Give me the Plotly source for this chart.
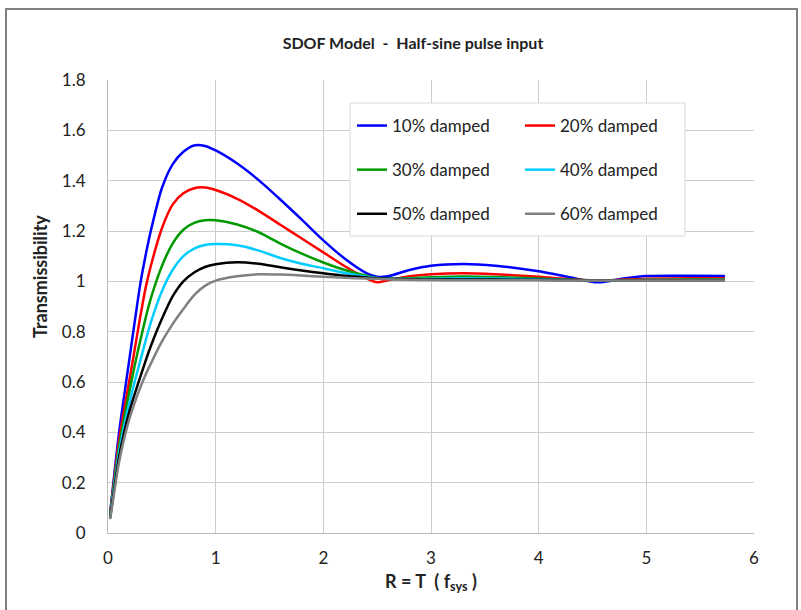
import plotly.graph_objects as go

# Frequency ratio R = T * f_sys
r_values = [0.02, 0.1, 0.15, 0.2, 0.25, 0.3, 0.35, 0.4, 0.5, 0.6, 0.7, 0.8, 0.9, 1.0,
            1.2, 1.4, 1.6, 1.8, 2.0, 2.2, 2.4, 2.5, 2.6, 2.8, 3.0, 3.3, 3.6, 4.0, 4.3,
            4.55, 4.8, 5.0, 5.4, 5.73]

damped_10 = [0.08, 0.39, 0.545, 0.695, 0.845, 0.99, 1.105, 1.205, 1.37, 1.465, 1.515, 1.54, 1.538, 1.52,
             1.468, 1.402, 1.325, 1.245, 1.163, 1.09, 1.033, 1.018, 1.02, 1.045, 1.062, 1.069, 1.062, 1.04, 1.015,
             0.996, 1.012, 1.021, 1.022, 1.021]
damped_20 = [0.075, 0.36, 0.49, 0.61, 0.735, 0.86, 0.975, 1.065, 1.21, 1.305, 1.35, 1.37, 1.373, 1.363,
             1.328, 1.28, 1.225, 1.17, 1.115, 1.06, 1.012, 0.996, 1.004, 1.02, 1.028, 1.032, 1.028, 1.018, 1.008,
             1.003, 1.007, 1.01, 1.012, 1.012]
damped_30 = [0.07, 0.335, 0.455, 0.565, 0.67, 0.765, 0.855, 0.935, 1.06, 1.15, 1.205, 1.232, 1.243, 1.243,
             1.226, 1.195, 1.15, 1.11, 1.075, 1.045, 1.022, 1.013, 1.01, 1.012, 1.016, 1.019, 1.017, 1.011, 1.006,
             1.004, 1.005, 1.006, 1.007, 1.007]
damped_40 = [0.065, 0.315, 0.425, 0.52, 0.605, 0.685, 0.765, 0.84, 0.96, 1.045, 1.1, 1.13, 1.144, 1.148,
             1.143, 1.122, 1.093, 1.07, 1.052, 1.033, 1.018, 1.013, 1.01, 1.009, 1.01, 1.012, 1.011, 1.008, 1.005,
             1.004, 1.004, 1.005, 1.005, 1.005]
damped_50 = [0.06, 0.295, 0.4, 0.485, 0.555, 0.62, 0.685, 0.745, 0.85, 0.94, 1.0, 1.035, 1.057, 1.068,
             1.076, 1.07, 1.056, 1.043, 1.032, 1.022, 1.015, 1.012, 1.01, 1.008, 1.007, 1.007, 1.007, 1.006, 1.005,
             1.004, 1.004, 1.004, 1.004, 1.004]
damped_60 = [0.055, 0.275, 0.375, 0.455, 0.52, 0.578, 0.63, 0.675, 0.76, 0.83, 0.89, 0.945, 0.982, 1.003,
             1.02, 1.028, 1.027, 1.023, 1.018, 1.014, 1.011, 1.01, 1.008, 1.006, 1.005, 1.004, 1.004, 1.004, 1.003,
             1.003, 1.003, 1.003, 1.003, 1.003]

series_names = ["10% damped", "20% damped", "30% damped", "40% damped", "50% damped", "60% damped"]
series_values = [damped_10, damped_20, damped_30, damped_40, damped_50, damped_60]
series_colors = ["#0000ff", "#ff0000", "#009a00", "#00ccff", "#000000", "#808080"]
legend_ids = ["legend", "legend2", "legend", "legend2", "legend", "legend2"]

x_ticks = [0, 1, 2, 3, 4, 5, 6]
y_ticks = [0, 0.2, 0.4, 0.6, 0.8, 1, 1.2, 1.4, 1.6, 1.8]
y_tick_labels = ["0", "0.2", "0.4", "0.6", "0.8", "1", "1.2", "1.4", "1.6", "1.8"]

FONT = "Lato, 'Open Sans', sans-serif"
TXT = "#222222"

fig = go.Figure()
for name, vals, col, lg in zip(series_names, series_values, series_colors, legend_ids):
    fig.add_trace(go.Scatter(
        x=r_values, y=vals, mode="lines", name=name,
        line=dict(color=col, width=2.5, shape="spline", smoothing=0.7),
        legend=lg, legendgroup=name,
    ))

W, H = 801, 610
L, R, T, B = 108, 47, 80, 77
pw, ph = W - L - R, H - T - B


def px_x(p):
    return (p - L) / pw


def px_y(p):
    return (H - B - p) / ph


legend_common = dict(
    bgcolor="rgba(0,0,0,0)", borderwidth=0,
    font=dict(family=FONT, size=17, color=TXT),
    xanchor="left", yanchor="top", orientation="v",
    tracegroupgap=19, itemwidth=30,
)

fig.update_layout(
    width=W, height=H,
    margin=dict(l=L, r=R, t=T, b=B),
    paper_bgcolor="white", plot_bgcolor="white",
    font=dict(family=FONT, size=16, color=TXT),
    title=dict(
        text="<b>SDOF Model\u00a0\u00a0-\u00a0\u00a0Half-sine pulse input</b>",
        x=413 / W, xanchor="center", xref="container",
        y=1 - 43 / H, yanchor="middle", yref="container",
        font=dict(family=FONT, size=16, color=TXT),
    ),
    xaxis=dict(
        range=[0, 6], tickvals=x_ticks, ticktext=[str(v) for v in x_ticks],
        showgrid=True, gridcolor="#cccccc", gridwidth=1,
        showline=True, linecolor="#bbbbbb", linewidth=1,
        zeroline=False, ticks="", ticklabelstandoff=10,
        tickfont=dict(family=FONT, size=17, color=TXT),
        title=dict(text="<b>R = T\u00a0\u00a0( f<sub>sys</sub>\u00a0)</b>", standoff=7,
                   font=dict(family=FONT, size=18, color=TXT)),
    ),
    yaxis=dict(
        range=[0, 1.8], tickvals=y_ticks, ticktext=y_tick_labels,
        showgrid=True, gridcolor="#cccccc", gridwidth=1,
        showline=True, linecolor="#bbbbbb", linewidth=1,
        zeroline=False, ticks="", ticklabelstandoff=18,
        tickfont=dict(family=FONT, size=17, color=TXT),
    ),
    legend=dict(x=px_x(352), y=px_y(108), **legend_common),
    legend2=dict(x=px_x(520), y=px_y(108), **legend_common),
    showlegend=True,
    annotations=[
        dict(text="<b>Transmissibility</b>", textangle=-90,
             xref="paper", yref="paper", x=px_x(40), y=px_y(277),
             xanchor="center", yanchor="middle", showarrow=False,
             font=dict(family=FONT, size=18, color=TXT)),
    ],
    shapes=[
        # legend box
        dict(type="rect", xref="paper", yref="paper", layer="above",
             x0=px_x(350), x1=px_x(685), y0=px_y(236), y1=px_y(103),
             fillcolor="white", line=dict(color="#d9d9d9", width=1)),
        # outer chart frame
        dict(type="path", xref="paper", yref="paper", layer="above",
             path=f"M {px_x(6)},{px_y(640)} L {px_x(6)},{px_y(9)} L {px_x(797)},{px_y(9)} L {px_x(797)},{px_y(640)}",
             line=dict(color="#808080", width=2)),
    ],
)

fig.write_html("out.html")
